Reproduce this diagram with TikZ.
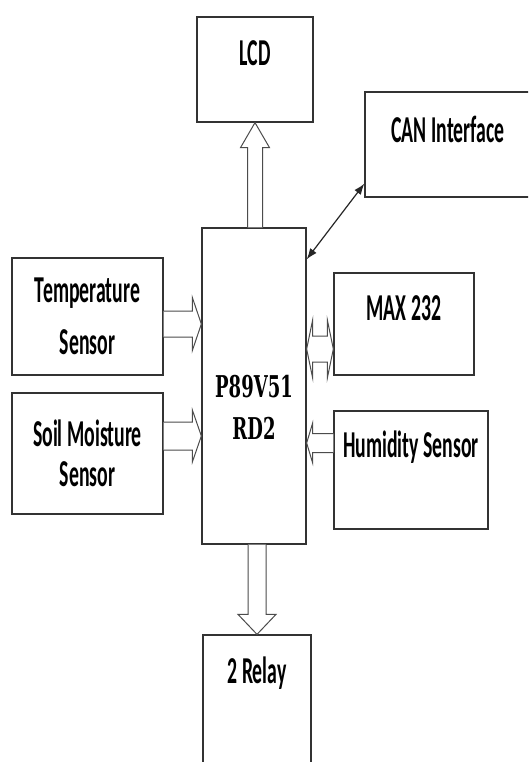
\documentclass[tikz,border=0pt]{standalone}
\usepackage{fontspec}
\setmainfont{Carlito}[FakeStretch=0.52]
\newfontfamily\chipfont{DejaVu Serif}[FakeStretch=0.6]
\usetikzlibrary{calc,arrows.meta}

\tikzset{
  blk/.style={draw=black!80, line width=1.3pt, rectangle, inner sep=0pt,
    align=center, font=\bfseries\fontsize{38}{40}\selectfont},
  toptext/.style={text height=25pt, text depth=#1},
  fatarrow/.style={draw=black!70, line width=1pt, fill=white, line join=miter},
  link/.style={{Latex[length=11pt,width=8pt]}-{Latex[length=11pt,width=8pt]}, line width=1.2pt, black!85}
}

% block arrows: start, tip, shaft half width, head half width, head length
\newcommand{\vfat}[5]{%
  \draw[fatarrow] let \p1=(#1), \p2=(#2) in
    ({\x2-#3},\y1) -- ({\x2-#3},{\y2-(#5)}) -- ({\x2-#4},{\y2-(#5)}) -- (\x2,\y2)
    -- ({\x2+#4},{\y2-(#5)}) -- ({\x2+#3},{\y2-(#5)}) -- ({\x2+#3},\y1);}
\newcommand{\hfat}[5]{%
  \draw[fatarrow] let \p1=(#1), \p2=(#2) in
    (\x1,{\y1+#3}) -- ({\x2-(#5)},{\y1+#3}) -- ({\x2-(#5)},{\y1+#4}) -- (\x2,\y1)
    -- ({\x2-(#5)},{\y1-#4}) -- ({\x2-(#5)},{\y1-#3}) -- (\x1,{\y1-#3});}
\newcommand{\dfat}[5]{%
  \draw[fatarrow] let \p1=(#1), \p2=(#2) in
    (\x1,\y2) -- ({\x1+#5},{\y2+#4}) -- ({\x1+#5},{\y2+#3}) -- ({\x2-#5},{\y2+#3})
    -- ({\x2-#5},{\y2+#4}) -- (\x2,\y2) -- ({\x2-#5},{\y2-#4}) -- ({\x2-#5},{\y2-#3})
    -- ({\x1+#5},{\y2-#3}) -- ({\x1+#5},{\y2-#4}) -- cycle;}

\begin{document}
\begin{tikzpicture}[x=1pt,y=-1pt]
  \clip (0,0) rectangle (528,762);
  \fill[white] (0,0) rectangle (528,762);

  \node[blk, toptext=33pt, minimum width=116pt, minimum height=105pt] (lcd) at (255,69.5) {LCD};
  \node[blk, toptext=29pt, minimum width=166pt, minimum height=105pt] (can) at (448,144.5) {CAN Interface};
  \node[blk, minimum width=151pt, minimum height=117pt] (temp) at (87.5,316.5) {Temperature\\[12pt]Sensor};
  \node[blk, minimum width=151pt, minimum height=121pt] (soil) at (87.5,453.5) {Soil Moisture\\Sensor};
  \node[blk, minimum width=104pt, minimum height=316pt, text height=106pt, text depth=0pt,
    font=\chipfont\bfseries\fontsize{30}{42}\selectfont] (main) at (254,386) {P89V51\\RD2};
  \node[blk, toptext=32pt, minimum width=140pt, minimum height=102pt] (max) at (404,324) {MAX 232};
  \node[blk, toptext=50pt, minimum width=154pt, minimum height=118pt] (humid) at (411,470) {Humidity Sensor};
  \node[blk, toptext=68pt, minimum width=108pt, minimum height=140pt] (relay) at (257,705) {2 Relay};

  \vfat{main.north}{lcd.south}{7.5pt}{14.5pt}{25pt}
  \vfat{main.south}{relay.north}{9pt}{19pt}{-20pt}
  \hfat{[yshift=-7.5pt]temp.east}{main.west}{13pt}{26.5pt}{9pt}
  \hfat{[yshift=17.5pt]soil.east}{main.west}{14pt}{26pt}{9pt}
  \hfat{[yshift=27pt]humid.west}{main.east}{9.5pt}{20pt}{-6pt}
  \dfat{main.east}{[yshift=-25pt]max.west}{13pt}{29pt}{6pt}
  \draw[link] ([yshift=-32pt]main.north east) -- ([yshift=14pt]can.south west);
\end{tikzpicture}
\end{document}
